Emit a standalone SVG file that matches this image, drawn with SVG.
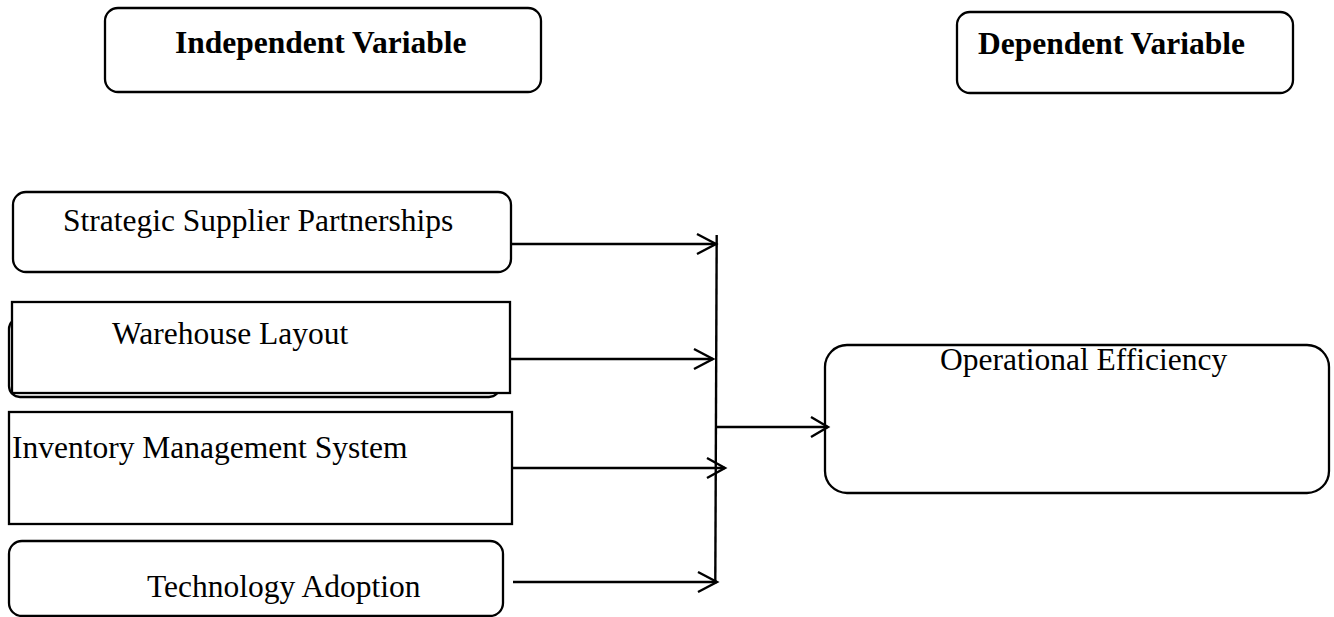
<svg xmlns="http://www.w3.org/2000/svg" width="1334" height="617" viewBox="0 0 1334 617">
<style>
.box{fill:#fff;stroke:#000;stroke-width:2.3}
.t{font-family:"Liberation Serif","Times New Roman",serif;font-size:31.5px;fill:#000}
.b{font-weight:bold}
.c{fill:none;stroke:#000;stroke-width:2.4}
</style>
<rect width="1334" height="617" fill="#fff"/>
<g id="independent-header">
<rect class="box" x="105" y="8" width="436" height="84" rx="13"/>
<text class="t b" x="175" y="53">Independent Variable</text>
</g>
<g id="dependent-header">
<rect class="box" x="957" y="12" width="336" height="81" rx="13"/>
<text class="t b" x="978" y="54">Dependent Variable</text>
</g>
<g id="strategic">
<rect class="box" x="13" y="192" width="498" height="80" rx="13"/>
<text class="t" x="63" y="231">Strategic Supplier Partnerships</text>
</g>
<g id="warehouse">
<rect class="box" x="9" y="318" width="491" height="79" rx="11"/>
<rect class="box" x="12" y="302" width="498" height="91"/>
<text class="t" x="112" y="344">Warehouse Layout</text>
</g>
<g id="inventory">
<rect class="box" x="9" y="412" width="503" height="112"/>
<text class="t" x="12" y="458">Inventory Management System</text>
</g>
<g id="technology">
<rect class="box" x="9" y="541" width="494" height="75" rx="13"/>
<text class="t" x="147" y="597">Technology Adoption</text>
</g>
<g id="operational">
<rect class="box" x="825" y="345" width="504" height="148" rx="22"/>
<text class="t" x="940" y="370">Operational Efficiency</text>
</g>
<g id="connectors">
<line class="c" x1="716.7" y1="235" x2="715.3" y2="583"/>
<line class="c" x1="511" y1="244" x2="716" y2="244"/>
<polyline class="c" points="697,234 716,244 697,254"/>
<line class="c" x1="510" y1="359" x2="713" y2="359"/>
<polyline class="c" points="694,349 713,359 694,369"/>
<line class="c" x1="512" y1="468" x2="725" y2="468"/>
<polyline class="c" points="707,458 725,468 707,478"/>
<line class="c" x1="513" y1="582" x2="717" y2="582"/>
<polyline class="c" points="698,572 717,582 698,592"/>
<line class="c" x1="716" y1="427" x2="828" y2="427"/>
<polyline class="c" points="811,417 828,427 811,437"/>
</g>
</svg>
